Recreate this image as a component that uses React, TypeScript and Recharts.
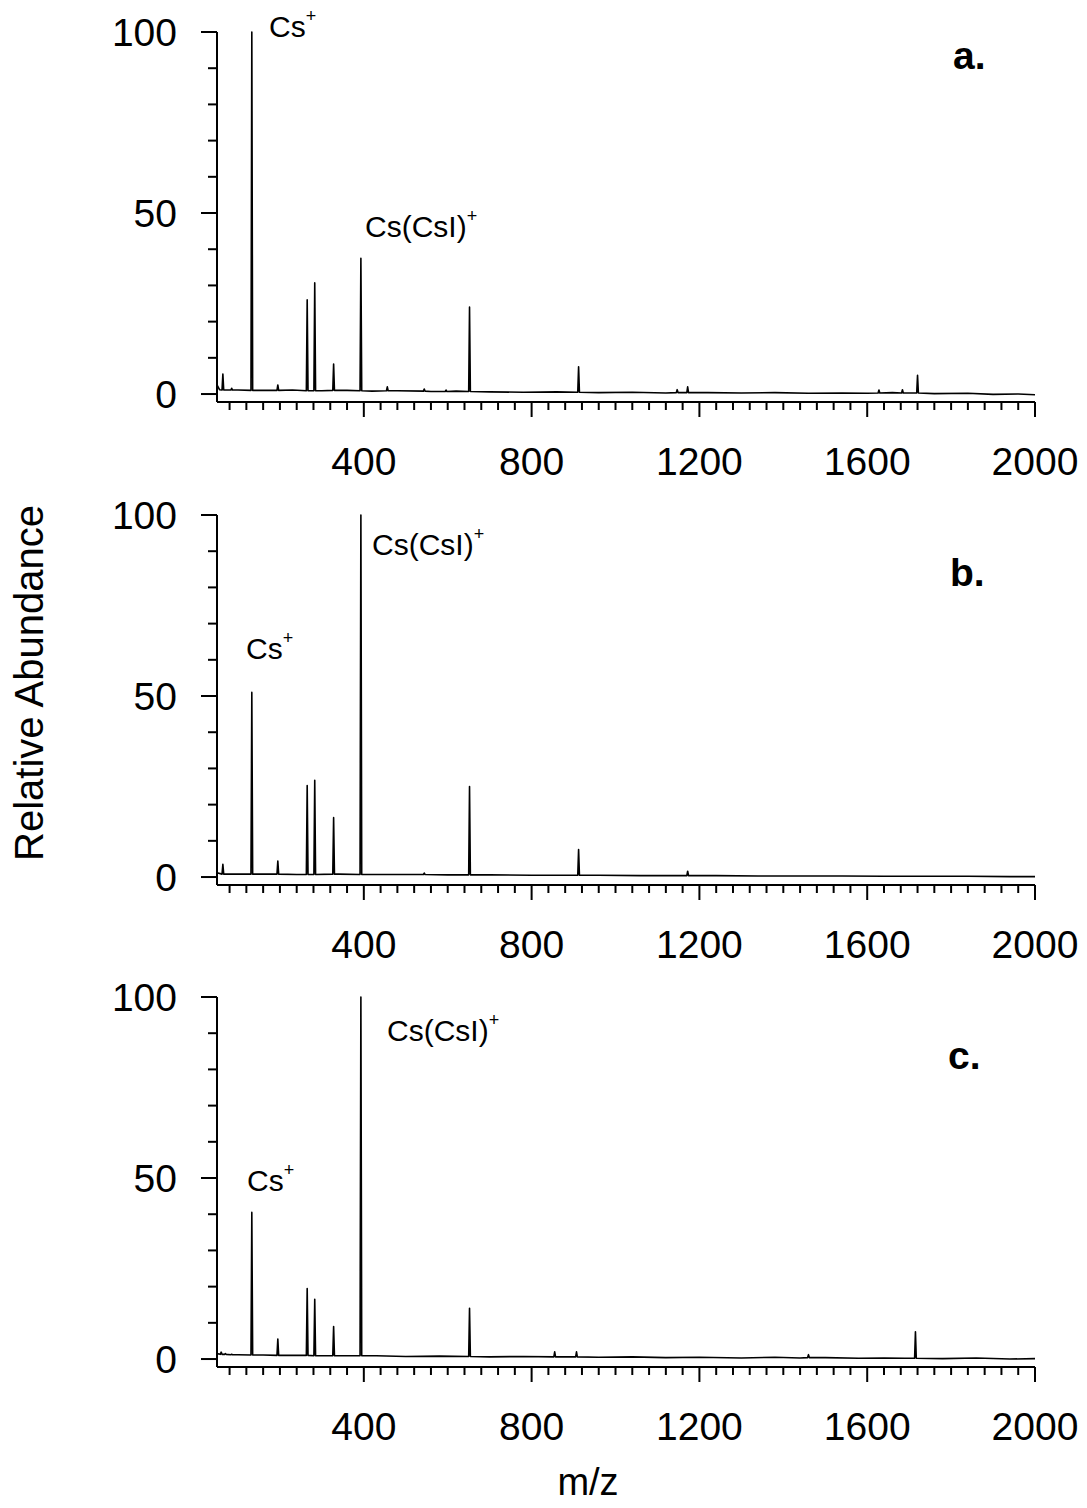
import { Line, LineChart, XAxis, YAxis } from "recharts";

type Pt = [number, number];
// m/z, apex height, local baseline under the peak
type Peak = [number, number, number];

const xTicks = [
  80, 120, 160, 200, 240, 280, 320, 360, 400, 440, 480, 520, 560, 600, 640, 680,
  720, 760, 800, 840, 880, 920, 960, 1000, 1040, 1080, 1120, 1160, 1200, 1240,
  1280, 1320, 1360, 1400, 1440, 1480, 1520, 1560, 1600, 1640, 1680, 1720, 1760,
  1800, 1840, 1880, 1920, 1960, 2000,
];
const xLabels = [400, 800, 1200, 1600, 2000];
const yTicks = [0, 10, 20, 30, 40, 50, 60, 70, 80, 90, 100];
const yLabels = [0, 50, 100];

const baseA: Pt[] = [
  [50, 2.5], [56, 1.2], [100, 1.1], [160, 1.0], [230, 1.1], [300, 0.9], [360, 1.0],
  [420, 0.8], [480, 0.9], [560, 0.7], [620, 0.8], [700, 0.6], [780, 0.5], [860, 0.6],
  [960, 0.4], [1040, 0.5], [1120, 0.3], [1220, 0.4], [1300, 0.3], [1380, 0.4],
  [1460, 0.2], [1540, 0.3], [1600, 0.2], [1660, 0.4], [1760, 0.1], [1840, 0.2],
  [1900, -0.1], [1960, 0.0], [2000, -0.2],
];
const peaksA: Peak[] = [
  [64, 5.5, 1.1], [85, 1.6, 1.1], [133, 100, 1.0], [195, 2.5, 1.0], [265, 26, 0.9],
  [283, 30.7, 0.9], [328, 8.3, 1.0], [393, 37.5, 0.9], [456, 2, 0.9], [544, 1.4, 0.8],
  [596, 1.1, 0.7], [652, 24, 0.7], [912, 7.5, 0.5], [1147, 1.2, 0.4], [1172, 2, 0.4],
  [1628, 1.1, 0.3], [1684, 1.2, 0.3], [1720, 5.2, 0.3],
];

const baseB: Pt[] = [
  [50, 1.2], [100, 0.8], [160, 0.8], [240, 0.7], [340, 0.8], [420, 0.7], [500, 0.7],
  [600, 0.6], [700, 0.6], [800, 0.5], [880, 0.5], [960, 0.5], [1060, 0.4], [1140, 0.4],
  [1240, 0.4], [1340, 0.3], [1440, 0.3], [1540, 0.3], [1640, 0.2], [1740, 0.2],
  [1840, 0.2], [1940, 0.1], [2000, 0.1],
];
const peaksB: Peak[] = [
  [64, 3.5, 0.8], [133, 51, 0.8], [195, 4.4, 0.8], [265, 25.3, 0.7], [283, 26.7, 0.7],
  [328, 16.4, 0.8], [393, 100, 0.7], [544, 1.1, 0.7], [652, 25, 0.6], [912, 7.6, 0.5],
  [1172, 1.6, 0.4],
];

const baseC: Pt[] = [
  [50, 1.5], [100, 1.2], [160, 1.1], [240, 1.0], [340, 0.9], [430, 0.9], [500, 0.7],
  [580, 0.8], [700, 0.6], [780, 0.7], [880, 0.6], [960, 0.5], [1040, 0.6], [1120, 0.4],
  [1200, 0.5], [1300, 0.3], [1380, 0.5], [1440, 0.3], [1500, 0.4], [1580, 0.2],
  [1640, 0.3], [1690, 0.2], [1780, 0.1], [1860, 0.3], [1940, 0.0], [2000, 0.1],
];
const peaksC: Peak[] = [
  [60, 1.9, 1.3], [70, 1.5, 1.3], [85, 1.3, 1.2], [133, 40.5, 1.1], [195, 5.5, 1.0],
  [265, 19.5, 1.0], [283, 16.5, 0.9], [328, 9, 0.9], [393, 100, 0.9], [652, 14, 0.7],
  [855, 2, 0.6], [907, 2, 0.6], [1460, 1.2, 0.4], [1715, 7.5, 0.2],
];

const FONT = "'Liberation Sans', Arial, Helvetica, sans-serif";

function buildSpectrum(base: Pt[], peaks: Peak[]) {
  const pts: Pt[] = [...base];
  peaks.forEach(([mz, h, b]) => {
    pts.push([mz - 2, b], [mz, h], [mz + 2, b]);
  });
  pts.sort((p, q) => p[0] - q[0]);
  return pts.map(([mz, v]) => ({ mz, v }));
}

function YTick(props: any) {
  const { x, y, payload } = props;
  const major = yLabels.includes(payload.value);
  return (
    <g>
      <line x1={x - (major ? 16 : 9)} x2={x} y1={y} y2={y} stroke="#000" strokeWidth={2} />
      {major && (
        <text x={x - 40} y={y + 14} textAnchor="end" fontSize={39} fontFamily={FONT} fill="#000">
          {payload.value}
        </text>
      )}
    </g>
  );
}

function XTick(props: any) {
  const { x, y, payload } = props;
  const major = xLabels.includes(payload.value);
  return (
    <g>
      <line x1={x} x2={x} y1={y} y2={y + (major ? 15 : 8)} stroke="#000" strokeWidth={2} />
      {major && (
        <text x={x} y={y + 73} textAnchor="middle" fontSize={39} fontFamily={FONT} fill="#000">
          {payload.value}
        </text>
      )}
    </g>
  );
}

function Panel({ top, base, peaks }: { top: number; base: Pt[]; peaks: Peak[] }) {
  const data = buildSpectrum(base, peaks);
  return (
    <div style={{ position: "absolute", left: 0, top }}>
      <LineChart width={1087} height={483} data={data} margin={{ top: 32, right: 52, bottom: 0, left: 0 }}>
        <XAxis
          type="number"
          dataKey="mz"
          domain={[50, 2000]}
          ticks={xTicks}
          interval={0}
          tick={<XTick />}
          tickLine={false}
          tickSize={0}
          tickMargin={0}
          axisLine={{ stroke: "#000", strokeWidth: 2 }}
          height={81}
        />
        <YAxis
          type="number"
          domain={[-2.2, 100]}
          ticks={yTicks}
          interval={0}
          tick={<YTick />}
          tickLine={false}
          tickSize={0}
          tickMargin={0}
          axisLine={{ stroke: "#000", strokeWidth: 2 }}
          width={217}
        />
        <Line
          type="linear"
          dataKey="v"
          stroke="#000"
          strokeWidth={1.6}
          strokeLinejoin="round"
          dot={false}
          activeDot={false}
          isAnimationActive={false}
        />
      </LineChart>
    </div>
  );
}

function Ion({ x, y, text }: { x: number; y: number; text: string }) {
  return (
    <text x={x} y={y} fontSize={30} fontFamily={FONT} fill="#000">
      {text}
      <tspan fontSize={18} dy={-15}>+</tspan>
    </text>
  );
}

export default function App() {
  return (
    <div style={{ position: "absolute", left: 0, top: 0, width: 1087, height: 1508, background: "#fff", overflow: "hidden" }}>
      <Panel top={0} base={baseA} peaks={peaksA} />
      <Panel top={483} base={baseB} peaks={peaksB} />
      <Panel top={965} base={baseC} peaks={peaksC} />
      <svg width={1087} height={1508} style={{ position: "absolute", left: 0, top: 0, pointerEvents: "none" }}>
        <text x={43} y={683} transform="rotate(-90 43 683)" textAnchor="middle" fontSize={40} fontFamily={FONT} fill="#000">
          Relative Abundance
        </text>
        <text x={588} y={1495} textAnchor="middle" fontSize={38} fontFamily={FONT} fill="#000">
          m/z
        </text>
        <Ion x={269} y={37} text="Cs" />
        <Ion x={365} y={237} text="Cs(CsI)" />
        <Ion x={372} y={555} text="Cs(CsI)" />
        <Ion x={246} y={659} text="Cs" />
        <Ion x={387} y={1041} text="Cs(CsI)" />
        <Ion x={247} y={1191} text="Cs" />
        <text x={953} y={69} fontSize={39} fontWeight="bold" fontFamily={FONT} fill="#000">a.</text>
        <text x={950} y={586} fontSize={39} fontWeight="bold" fontFamily={FONT} fill="#000">b.</text>
        <text x={948} y={1069} fontSize={39} fontWeight="bold" fontFamily={FONT} fill="#000">c.</text>
      </svg>
    </div>
  );
}
